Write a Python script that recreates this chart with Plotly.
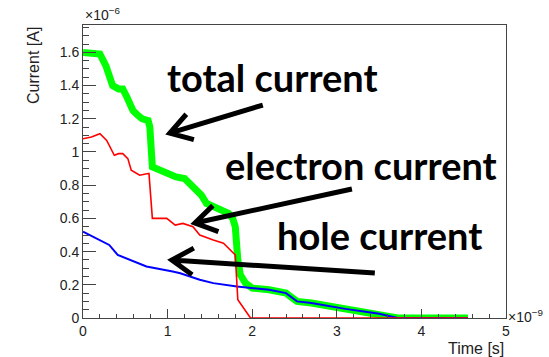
import math
import plotly.graph_objects as go

# Data (time in ns, current in uA)
green_x = [0, 0.1, 0.2, 0.27, 0.35, 0.42, 0.47, 0.52, 0.59, 0.65, 0.7, 0.77, 0.79, 0.82, 0.9, 1.0, 1.1, 1.2,
           1.3, 1.4, 1.46, 1.55, 1.65, 1.72, 1.77, 1.8, 1.83, 1.86, 1.92, 2.0, 2.2, 2.4, 2.45, 2.53, 2.7,
           2.96, 3.1, 3.36, 3.5, 3.72, 4.0, 4.55]
green_y = [1.60, 1.60, 1.59, 1.52, 1.40, 1.38, 1.38, 1.33, 1.25, 1.22, 1.20, 1.19, 1.15, 0.91, 0.89, 0.87,
           0.85, 0.84, 0.79, 0.74, 0.69, 0.67, 0.65, 0.63, 0.60, 0.55, 0.35, 0.26, 0.21, 0.18, 0.17, 0.15,
           0.13, 0.10, 0.09, 0.066, 0.055, 0.036, 0.025, 0.0, 0.0, 0.0]

blue_x = [0, 0.15, 0.31, 0.41, 0.6, 0.75, 1.06, 1.15, 1.38, 1.54, 1.82, 2.0, 2.2, 2.4, 2.45, 2.53, 2.7,
          2.96, 3.1, 3.36, 3.5, 3.72, 4.0, 4.55]
blue_y = [0.52, 0.48, 0.44, 0.38, 0.34, 0.31, 0.28, 0.27, 0.23, 0.21, 0.19, 0.18, 0.17, 0.15, 0.13, 0.10,
          0.09, 0.066, 0.055, 0.036, 0.025, 0.0, 0.0, 0.0]

red_x = [0, 0.1, 0.2, 0.28, 0.37, 0.42, 0.47, 0.53, 0.57, 0.67, 0.77, 0.78, 0.82, 0.99, 1.09, 1.18, 1.3,
         1.38, 1.54, 1.66, 1.78, 1.80, 1.83, 1.92, 1.98, 4.55]
red_y = [1.08, 1.09, 1.11, 1.07, 0.98, 0.99, 0.99, 0.96, 0.89, 0.86, 0.87, 0.87, 0.60, 0.60, 0.56, 0.57,
         0.55, 0.50, 0.47, 0.45, 0.39, 0.38, 0.11, 0.04, 0.0, 0.0]

labels = ["total current", "electron current", "hole current"]

fig = go.Figure()
fig.add_trace(go.Scatter(x=green_x, y=green_y, mode="lines", line=dict(color="#00ff00", width=7),
                         showlegend=False))
fig.add_trace(go.Scatter(x=blue_x, y=blue_y, mode="lines", line=dict(color="#0000ff", width=2),
                         showlegend=False))
fig.add_trace(go.Scatter(x=red_x, y=red_y, mode="lines", line=dict(color="#ff0000", width=1.6),
                         showlegend=False))

tickfont = dict(family="Liberation Sans, Arial, sans-serif", size=14, color="#222")
axcol = "#444"
fig.update_xaxes(range=[0, 5], dtick=1, tick0=0, ticks="inside", ticklen=9, tickcolor=axcol,
                 showline=True, linecolor=axcol, linewidth=1, mirror=True, showgrid=False,
                 zeroline=False, tickfont=tickfont,
                 minor=dict(dtick=0.2, ticks="inside", ticklen=4, tickcolor=axcol))
fig.update_yaxes(range=[0, 1.765], dtick=0.2, tick0=0, ticks="inside", ticklen=13, tickcolor=axcol,
                 showline=True, linecolor=axcol, linewidth=1, mirror=True, showgrid=False,
                 zeroline=False, tickfont=tickfont,
                 minor=dict(dtick=0.05, ticks="inside", ticklen=6, tickcolor=axcol))

textfont = dict(family="Lato, sans-serif", size=38, color="black", weight="bold")
# label positions (data coords)
lab_pos = [(2.24, 1.45), (3.29, 0.92), (3.5, 0.50)]
for t, (lx, ly) in zip(labels, lab_pos):
    fig.add_annotation(x=lx, y=ly, text=t, showarrow=False, font=textfont, xanchor="center",
                       yanchor="middle")

# arrows: tip in data coords, tail as pixel offset (y up)
arrows = [((1.026, 1.114), (93, 28)), ((1.323, 0.572), (157, 34)), ((1.05, 0.349), (203, -13))]
shapes = []
for (tx, ty), (dx, dy) in arrows:
    L = math.hypot(dx, dy)
    ux, uy = dx / L, dy / L
    ang = math.radians(32)
    al = 25
    a1 = (al * (ux * math.cos(ang) - uy * math.sin(ang)), al * (ux * math.sin(ang) + uy * math.cos(ang)))
    a2 = (al * (ux * math.cos(ang) + uy * math.sin(ang)), al * (-ux * math.sin(ang) + uy * math.cos(ang)))
    path = (f"M {dx},{dy} L 0,0 M {a1[0]:.1f},{a1[1]:.1f} L 0,0 L {a2[0]:.1f},{a2[1]:.1f}")
    shapes.append(dict(type="path", xref="x", yref="y", xsizemode="pixel", ysizemode="pixel",
                       xanchor=tx, yanchor=ty, path=path, line=dict(color="black", width=5)))
fig.update_layout(shapes=shapes)

small = dict(family="Liberation Sans, Arial, sans-serif", size=14, color="#222")
title = dict(family="Liberation Sans, Arial, sans-serif", size=16, color="#222")
fig.add_annotation(xref="paper", yref="paper", x=0, y=1, xanchor="left", yanchor="bottom", yshift=0,
                   text="×10<sup>−6</sup>", showarrow=False, font=small)
fig.add_annotation(xref="paper", yref="paper", x=1, y=0, xanchor="left", yanchor="middle", xshift=0,
                   yshift=2, text="×10<sup>−9</sup>", showarrow=False, font=small)
fig.add_annotation(xref="paper", yref="paper", x=1, y=0, xanchor="right", yanchor="top", yshift=-20,
                   text="Time [s]", showarrow=False, font=title)
fig.add_annotation(xref="paper", yref="paper", x=0, y=1, xanchor="right", yanchor="top", xshift=-39,
                   text="Current [A]", textangle=-90, showarrow=False, font=title)

fig.update_layout(width=549, height=357, margin=dict(l=83, r=43, t=25, b=39),
                  plot_bgcolor="white", paper_bgcolor="white")
fig.write_html("out.html")
